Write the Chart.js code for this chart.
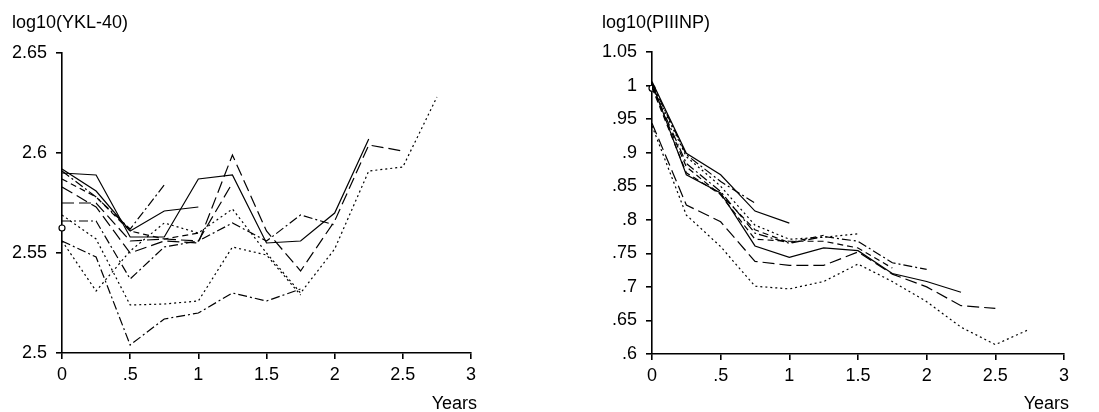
<!DOCTYPE html>
<html>
<head>
<meta charset="utf-8">
<script src="https://cdn.jsdelivr.net/npm/chart.js@4.4.1/dist/chart.umd.min.js"></script>
<style>
  html, body { margin: 0; padding: 0; background: #fff; }
  body { width: 1099px; height: 412px; position: relative; overflow: hidden; font-family: "Liberation Sans", Arial, sans-serif; }
  .panel { position: absolute; top: 0; }
  .lbl { position: absolute; font-size: 18px; line-height: 18px; color: #000; white-space: nowrap; }
</style>
</head>
<body>
<div class="panel" style="left:0"><canvas id="yklChart" width="550" height="412"></canvas></div>
<div class="panel" style="left:550px"><canvas id="piiinpChart" width="549" height="412"></canvas></div>
<div class="lbl" style="left:12px; top:13px">log10(YKL-40)</div>
<div class="lbl" style="left:602px; top:13px">log10(PIIINP)</div>
<div class="lbl" style="right:622px; top:394px">Years</div>
<div class="lbl" style="right:30px; top:394px">Years</div>
<script>
// time points (years) and tick labels
const xYears = [0, 0.25, 0.5, 0.75, 1, 1.25, 1.5, 1.75, 2, 2.25, 2.5, 2.75];
const xTickLabels = ["0", ".5", "1", "1.5", "2", "2.5", "3"];
const yklTickLabels = ["2.5", "2.55", "2.6", "2.65"];
const piiinpTickLabels = [".6", ".65", ".7", ".75", ".8", ".85", ".9", ".95", "1", "1.05"];

// ---- log10(YKL-40), one array per subject ----
const yklSolid1 = [2.590, 2.589, 2.558, 2.558, 2.587, 2.589, 2.555, 2.556, 2.570, 2.607];
const yklSolid2 = [2.592, 2.581, 2.561, 2.571, 2.573];
const yklDashDot1 = [2.591, 2.578, 2.562, 2.584];
const yklLongDash1 = [2.583, 2.573, 2.550, 2.556, 2.555, 2.599, 2.561, 2.541, 2.566, 2.604, 2.601];
const yklLongDash2 = [2.575, 2.575, 2.556, 2.557, 2.556, 2.585];
const yklDashDot2 = [2.566, 2.566, 2.537, 2.553, 2.556, 2.565, 2.556, 2.569, 2.564];
const yklDotted1 = [2.569, 2.557, 2.524, 2.5245, 2.526, 2.553, 2.549, 2.529];
const yklDotted2 = [2.556, 2.531, 2.551, 2.565, 2.560, 2.572, 2.550, 2.530, 2.552, 2.591, 2.593, 2.628];
const yklDashDot3 = [2.556, 2.548, 2.504, 2.517, 2.520, 2.530, 2.526, 2.532];
const yklDash1 = [2.587, 2.578, 2.561, 2.557, 2.560];
const yklSingle = [2.5625];

// ---- log10(PIIINP) ----
const pSolid1 = [1.006, 0.899, 0.867, 0.813, 0.795];
const pDashDot1 = [1.003, 0.897, 0.857, 0.825];
const pDotted1 = [1.001, 0.894, 0.850, 0.792, 0.771, 0.774, 0.779];
const pDashDot2 = [0.999, 0.884, 0.842, 0.780, 0.765, 0.775, 0.768, 0.736, 0.726];
const pDash1 = [0.998, 0.879, 0.837, 0.771, 0.768, 0.768, 0.758, 0.728];
const pSolid2 = [1.004, 0.867, 0.840, 0.761, 0.744, 0.758, 0.754, 0.720, 0.708, 0.692];
const pDash2 = [0.997, 0.870, 0.838, 0.785, 0.766, 0.777];
const pLongDash1 = [0.944, 0.822, 0.797, 0.738, 0.732, 0.732, 0.752, 0.719, 0.700, 0.672, 0.668];
const pDotted2 = [0.940, 0.807, 0.760, 0.701, 0.697, 0.708, 0.734, 0.708, 0.678, 0.640, 0.614, 0.637];
const pSingle = [0.996];

const DASH = {
  solid: [],
  longDash: [12, 5],
  dash: [6, 4],
  dot: [2, 3],
  dashDot: [9, 3, 2, 3],
};

const FONT = { family: "'Liberation Sans', Arial, sans-serif", size: 18 };

function toPoints(vals) {
  return vals.map((v, i) => ({ x: xYears[i], y: v }));
}

function lineSet(vals, dash) {
  return {
    data: toPoints(vals),
    borderColor: "#000",
    borderWidth: 1.2,
    borderDash: dash,
    pointRadius: 0,
    fill: false,
    tension: 0,
  };
}

function circleSet(vals) {
  return {
    data: toPoints(vals),
    showLine: false,
    pointRadius: 3,
    pointBorderColor: "#000",
    pointBackgroundColor: "#fff",
    pointBorderWidth: 1.2,
    clip: false,
  };
}

function makeChart(id, datasets, yMin, yMax, yLabels, pad, yWidth, xHeight) {
  const axisLine = { display: true, color: "#000", width: 1.6 };
  const tickMarks = { display: true, drawOnChartArea: false, drawTicks: true, tickLength: 6, color: "#000", lineWidth: 1.6 };
  return new Chart(document.getElementById(id), {
    type: "line",
    data: { datasets },
    options: {
      responsive: false,
      animation: false,
      devicePixelRatio: 1,
      layout: { padding: pad },
      plugins: { legend: { display: false }, tooltip: { enabled: false }, title: { display: false } },
      scales: {
        x: {
          type: "linear",
          min: 0,
          max: 3,
          border: axisLine,
          grid: tickMarks,
          afterFit: (s) => { s.height = xHeight; },
          ticks: {
            stepSize: 0.5,
            color: "#000",
            font: FONT,
            padding: 5,
            maxRotation: 0,
            autoSkip: false,
            callback: (v, i) => xTickLabels[i],
          },
        },
        y: {
          min: yMin,
          max: yMax,
          border: axisLine,
          grid: tickMarks,
          afterFit: (s) => { s.width = yWidth; },
          ticks: {
            stepSize: 0.05,
            color: "#000",
            font: FONT,
            padding: 9,
            autoSkip: false,
            callback: (v, i) => yLabels[i],
          },
        },
      },
    },
  });
}

makeChart("yklChart", [
  lineSet(yklSolid1, DASH.solid),
  lineSet(yklSolid2, DASH.solid),
  lineSet(yklDashDot1, DASH.dashDot),
  lineSet(yklLongDash1, DASH.longDash),
  lineSet(yklLongDash2, DASH.longDash),
  lineSet(yklDashDot2, DASH.dashDot),
  lineSet(yklDotted1, DASH.dot),
  lineSet(yklDotted2, DASH.dot),
  lineSet(yklDashDot3, DASH.dashDot),
  lineSet(yklDash1, DASH.dash),
  circleSet(yklSingle),
], 2.5, 2.65, yklTickLabels, { left: 0, right: 79, top: 53, bottom: 0 }, 62, 59);

makeChart("piiinpChart", [
  lineSet(pSolid1, DASH.solid),
  lineSet(pDashDot1, DASH.dashDot),
  lineSet(pDotted1, DASH.dot),
  lineSet(pDashDot2, DASH.dashDot),
  lineSet(pDash1, DASH.dash),
  lineSet(pSolid2, DASH.solid),
  lineSet(pDash2, DASH.dash),
  lineSet(pLongDash1, DASH.longDash),
  lineSet(pDotted2, DASH.dot),
  circleSet(pSingle),
], 0.6, 1.05, piiinpTickLabels, { left: 0, right: 35, top: 52, bottom: 0 }, 102, 58);
</script>
</body>
</html>
